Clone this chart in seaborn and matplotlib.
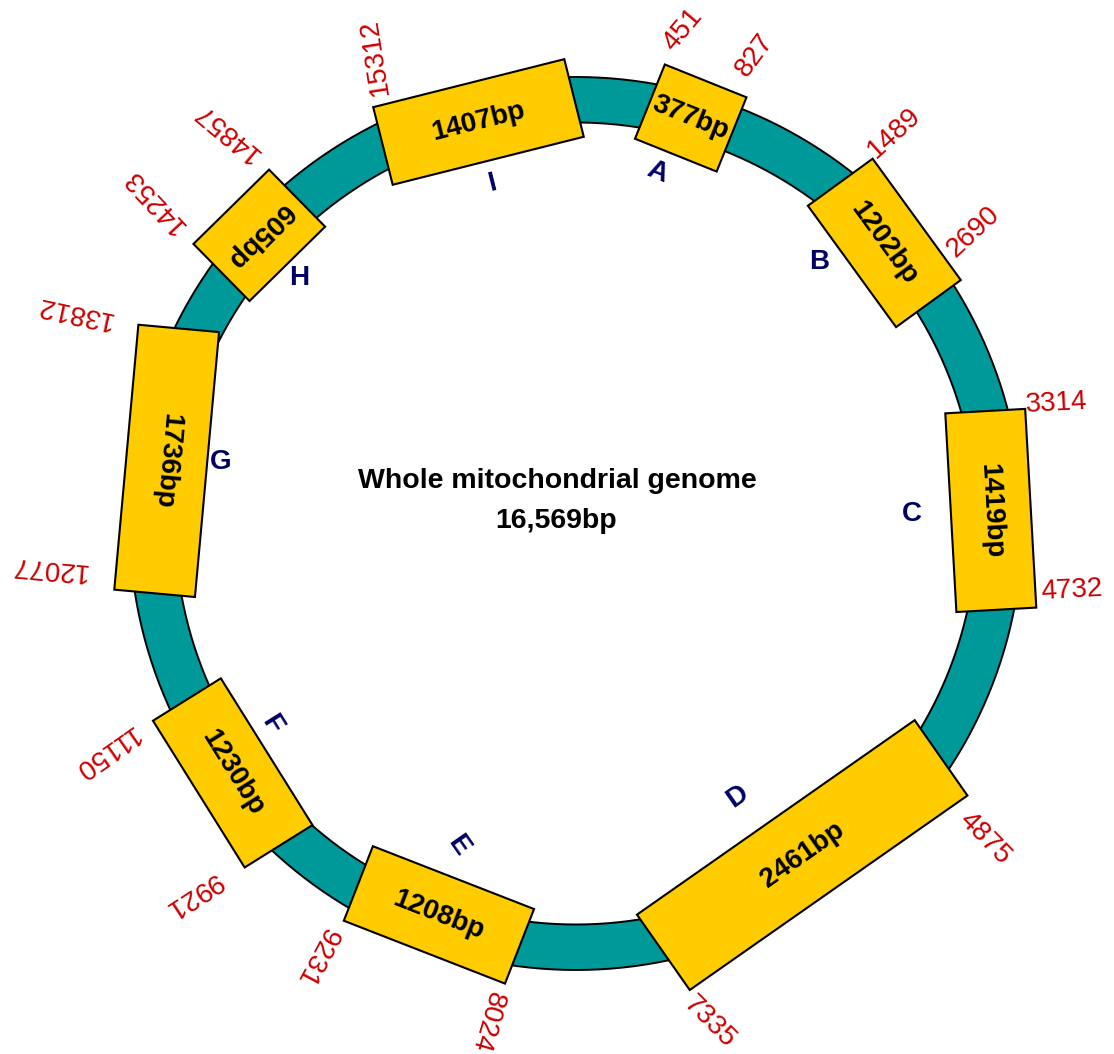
import numpy as np
import matplotlib
matplotlib.use("Agg")
import matplotlib.pyplot as plt
from matplotlib.patches import Polygon, Wedge
import seaborn as sns
import pandas as pd

# ---------------- data ----------------
fragments = ["A", "B", "C", "D", "E", "F", "G", "H", "I"]
sizes_bp = [377, 1202, 1419, 2461, 1208, 1230, 1736, 605, 1407]
starts = [451, 1489, 3314, 4875, 8024, 9921, 12077, 14253, 15312]
ends = [827, 2690, 4732, 7335, 9231, 11150, 13812, 14857, None]
title_line1 = "Whole mitochondrial genome"
title_line2 = "16,569bp"

# ---------------- layout (schematic, pixel units around ring centre) ----------------
box_phi = [15.8, 47.7, 88.2, 145.7, 199.3, 234.0, 278.7, 312.3, 346.35]   # clockwise from top
box_r = [421.4, 416.9, 415.0, 401.4, 414.7, 424.3, 414.1, 428.2, 413.2]
box_psi = [21.9, 54.0, 86.8, 145.0, 201.3, 238.0, 275.2, 315.5, 345.9]    # tangent direction
box_len = [88, 150, 199, 339, 173, 173, 266, 106, 197]
box_h = [80, 80, 80, 92, 80, 80, 81, 80, 80]
box_flip = [0, 0, 0, 1, 1, 1, 1, 1, 0]

letter_phi = [13.0, 42.9, 88.3, 149.5, 200.1, 236.5, 279.8, 311.6, 346.2]
letter_r = [361, 356.6, 336.1, 317.4, 342.8, 364.8, 360.6, 370.1, 350.3]
letter_rot = [-21.9, 0, 0, 35, -55, -58, 0, 0, 14]

start_phi = [12.2, 39.2, 76.0, 127.6, 190.1, 225.9, 265.2, 307.5, 336.7]
start_r = [505, 504.2, 495.7, 516.6, 506.4, 534, 530.1, 530.9, 508]
start_rot = [50, 42, 3, -46, -106, -147, 175, 133, 99]
end_phi = [20.9, 53.7, 97.7, 165.0, 210.9, 244.1, 292.9, 318.3, None]
end_r = [501.5, 493.3, 500.6, 516.2, 505.1, 523.5, 544.9, 524.9, None]
end_rot = [54, 43, 3, -45, -118, -145, 168, 140, None]

R_OUT, R_IN = 446.5, 401.0
TEAL, YELLOW, RED, NAVY = "#009999", "#FFCC00", "#CC0000", "#000066"

df = pd.DataFrame({"fragment": fragments, "size": sizes_bp, "start": starts,
                   "phi": box_phi, "r": box_r, "psi": box_psi,
                   "L": box_len, "h": box_h, "flip": box_flip})

sns.set_theme(style="white")
plt.rcParams["font.family"] = ["Liberation Sans", "DejaVu Sans"]

fig = plt.figure(figsize=(11.14, 10.54), dpi=100)
ax = fig.add_axes([0, 0, 1, 1])
ax.set_xlim(-576, 538)
ax.set_ylim(-530.5, 523.5)
ax.set_aspect("equal")
ax.axis("off")


def polar(phi, r):
    a = np.deg2rad(phi)
    return np.array([r * np.sin(a), r * np.cos(a)])


def norm_rot(a):
    return (a + 180) % 360 - 180


# ring
ax.add_patch(Wedge((0, 0), R_OUT, 0, 360, width=R_OUT - R_IN,
                   facecolor=TEAL, edgecolor="none", zorder=1))
t = np.linspace(0, 2 * np.pi, 721)
for rr in (R_OUT, R_IN):
    circ = pd.DataFrame({"x": rr * np.cos(t), "y": rr * np.sin(t)})
    sns.lineplot(data=circ, x="x", y="y", sort=False, estimator=None,
                 color="black", linewidth=1.4, ax=ax, zorder=2)
ax.set_xlabel("")
ax.set_ylabel("")
ax.axis("off")

fs = 20
for i, row in df.iterrows():
    c = polar(row.phi, row.r)
    psi = np.deg2rad(row.psi)
    u = np.array([np.cos(psi), -np.sin(psi)])
    n = np.array([np.sin(psi), np.cos(psi)])
    hl, hh = row.L / 2, row.h / 2
    corners = [c - u * hl + n * hh, c + u * hl + n * hh,
               c + u * hl - n * hh, c - u * hl - n * hh]
    ax.add_patch(Polygon(corners, closed=True, facecolor=YELLOW,
                         edgecolor="black", linewidth=1.5, zorder=3))
    rot = norm_rot(-row.psi + 180 * row.flip)
    ax.text(c[0], c[1], f"{row['size']}bp", rotation=rot, rotation_mode="anchor",
            ha="center", va="center", fontsize=fs, fontweight="bold",
            color="black", zorder=4)

    # fragment letter
    lp = polar(letter_phi[i], letter_r[i])
    ax.text(lp[0], lp[1], row.fragment, rotation=letter_rot[i], rotation_mode="anchor",
            ha="center", va="center", fontsize=fs, fontweight="bold",
            color=NAVY, zorder=4)

    # coordinate labels
    sp = polar(start_phi[i], start_r[i])
    ax.text(sp[0], sp[1], str(starts[i]), rotation=start_rot[i], rotation_mode="anchor",
            ha="center", va="center", fontsize=fs, color=RED, zorder=4)
    if ends[i] is not None:
        ep = polar(end_phi[i], end_r[i])
        ax.text(ep[0], ep[1], str(ends[i]), rotation=end_rot[i], rotation_mode="anchor",
                ha="center", va="center", fontsize=fs, color=RED, zorder=4)

# centre title
ax.text(-19, 42.5, title_line1, ha="center", va="center", fontsize=20.5,
        fontweight="bold", color="black", zorder=4)
ax.text(-20, 2.5, title_line2, ha="center", va="center", fontsize=20.5,
        fontweight="bold", color="black", zorder=4)

fig.savefig("out.png", dpi=100, facecolor="white")
